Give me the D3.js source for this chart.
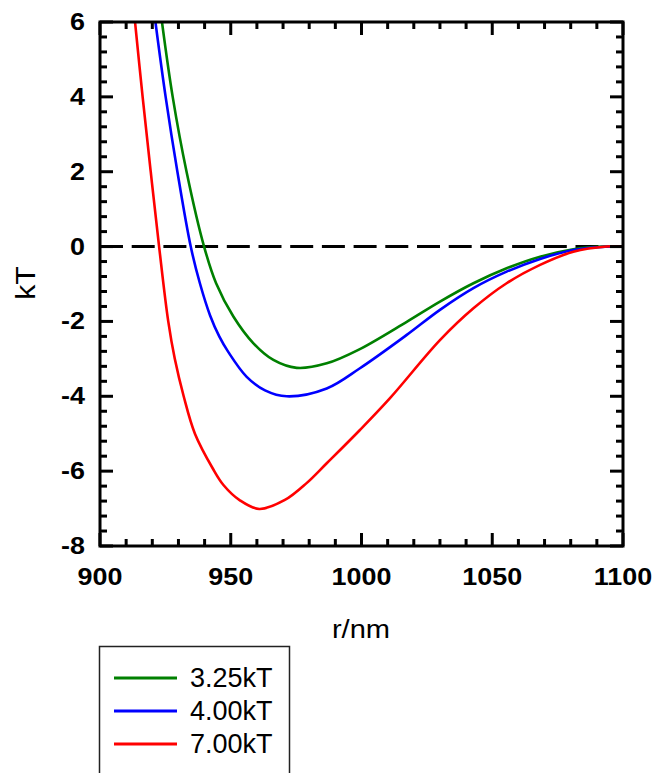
<!DOCTYPE html>
<html>
<head>
<meta charset="utf-8">
<script src="https://cdn.jsdelivr.net/npm/d3@7"></script>
<style>
  body { margin: 0; background: #fff; }
  svg { display: block; font-family: Arial, "Liberation Sans", sans-serif; }
</style>
</head>
<body>
<svg id="chart" width="655" height="773"></svg>
<script>
// ============= Data =============
// [r (nm), energy (kT)]
const green325 = [
  [923.7, 6.0], [927.8, 4.0], [933.1, 2.0], [939.8, 0.0], [944.4, -0.98],
  [951.0, -1.87], [958.6, -2.58], [966.3, -3.03], [975.2, -3.24], [986.7, -3.12],
  [998.8, -2.76], [1017.3, -2.01], [1030.0, -1.47], [1042.8, -0.98],
  [1055.5, -0.58], [1068.3, -0.27], [1081.0, -0.07], [1092.0, 0.0], [1100.0, 0.0]
];
const blue400 = [
  [921.2, 6.0], [925.1, 4.0], [929.6, 2.0], [934.7, 0.0], [938.2, -0.98],
  [942.1, -1.84], [945.6, -2.40], [949.1, -2.82], [956.1, -3.48], [963.1, -3.84],
  [971.4, -4.0], [986.7, -3.79], [999.4, -3.25], [1017.3, -2.36],
  [1030.0, -1.69], [1042.8, -1.11], [1055.5, -0.67], [1068.3, -0.33], [1081.0, -0.09],
  [1092.0, -0.01], [1100.0, 0.0]
];
const red700 = [
  [913.4, 6.0], [916.3, 4.0], [919.4, 2.0], [922.6, 0.0], [926.1, -2.0],
  [928.6, -3.0], [932.0, -4.0], [936.3, -5.0], [943.3, -5.95], [947.2, -6.37],
  [953.5, -6.78], [960.9, -7.01], [970.7, -6.77], [979.0, -6.32], [986.7, -5.79],
  [999.4, -4.9], [1010.9, -4.05], [1030.0, -2.5], [1042.8, -1.65], [1055.5, -0.98],
  [1068.3, -0.49], [1081.0, -0.14], [1093.8, 0.0], [1100.0, 0.0]
];

const xTicks = [900, 950, 1000, 1050, 1100];
const yTicks = [-8, -6, -4, -2, 0, 2, 4, 6];
const legendLabels = ['3.25kT', '4.00kT', '7.00kT'];
const colors = ['#008000', '#0000ff', '#ff0000'];
const series = [green325, blue400, red700];

// ============= Layout =============
const plot = {left: 100, right: 623, top: 22, bottom: 546};
const labelStretch = 1.17; // tick labels look horizontally stretched in the original

const svg = d3.select('#chart');

const x = d3.scaleLinear().domain([900, 1100]).range([plot.left, plot.right]);
const y = d3.scaleLinear().domain([-8, 6]).range([plot.bottom, plot.top]);

// clip for curves
svg.append('clipPath')
    .attr('id', 'plot-clip')
  .append('rect')
    .attr('x', plot.left)
    .attr('y', plot.top)
    .attr('width', plot.right - plot.left)
    .attr('height', plot.bottom - plot.top);

// Zero line (dashed)
svg.append('line')
  .attr('x1', plot.left)
  .attr('x2', plot.right)
  .attr('y1', y(0))
  .attr('y2', y(0))
  .attr('stroke', '#000')
  .attr('stroke-width', 3)
  .attr('stroke-dasharray', '23,8.7');

// Curves
const line = d3.line()
  .x(d => x(d[0]))
  .y(d => y(d[1]))
  .curve(d3.curveCatmullRom.alpha(0.5));

svg.append('g')
    .attr('clip-path', 'url(#plot-clip)')
  .selectAll('path')
    .data(series)
    .enter()
    .append('path')
    .attr('d', line)
    .attr('fill', 'none')
    .attr('stroke', (d, i) => colors[i])
    .attr('stroke-width', 2.6);

// ============= Axes =============
// Ticks pointing inward on all four sides
const xMinor = d3.range(900, 1100.1, 10);
const yMinor = d3.range(-8, 6.01, 0.4);

function tickLen(isMajor){ return isMajor ? 13 : 7; }

const ticks = svg.append('g')
  .attr('stroke', '#000')
  .attr('stroke-width', 3);

xMinor.forEach(v =>{
  const major = Math.abs(v % 50) < 1e-6;
  const px = x(v);
  ticks.append('line').attr('x1', px).attr('x2', px)
    .attr('y1', plot.bottom).attr('y2', plot.bottom - tickLen(major));
  ticks.append('line').attr('x1', px).attr('x2', px)
    .attr('y1', plot.top).attr('y2', plot.top + tickLen(major));
});

yMinor.forEach(v =>{
  const r = Math.round(v * 10) / 10;
  const major = Math.abs(r % 2) < 1e-6;
  const py = y(r);
  ticks.append('line').attr('y1', py).attr('y2', py)
    .attr('x1', plot.left).attr('x2', plot.left + tickLen(major));
  ticks.append('line').attr('y1', py).attr('y2', py)
    .attr('x1', plot.right).attr('x2', plot.right - tickLen(major));
});

// Frame
svg.append('rect')
  .attr('x', plot.left)
  .attr('y', plot.top)
  .attr('width', plot.right - plot.left)
  .attr('height', plot.bottom - plot.top)
  .attr('fill', 'none')
  .attr('stroke', '#000')
  .attr('stroke-width', 3);

// Tick labels
svg.append('g')
  .selectAll('text')
  .data(xTicks)
  .enter()
  .append('text')
    .attr('transform', d => 'translate(' + x(d) + ',585) scale(' + labelStretch + ',1)')
    .attr('text-anchor', 'middle')
    .style('font-size', '23px')
    .style('font-weight', 'bold')
    .text(d => d);

svg.append('g')
  .selectAll('text')
  .data(yTicks)
  .enter()
  .append('text')
    .attr('transform', d => 'translate(85,' + (y(d) + 8) + ') scale(' + labelStretch + ',1)')
    .attr('text-anchor', 'end')
    .style('font-size', '23px')
    .style('font-weight', 'bold')
    .text(d => d);

// Axis titles
svg.append('text')
  .attr('transform', 'translate(361,638) scale(1.12,1)')
  .attr('text-anchor', 'middle')
  .style('font-size', '26px')
  .text('r/nm');

svg.append('text')
  .attr('transform', 'translate(35,283) rotate(-90) scale(1.12,1)')
  .attr('text-anchor', 'middle')
  .style('font-size', '27px')
  .text('kT');

// ============= Legend =============
const legend = svg.append('g');

legend.append('rect')
  .attr('x', 99.5)
  .attr('y', 646.5)
  .attr('width', 190)
  .attr('height', 140)
  .attr('fill', '#fff')
  .attr('stroke', '#222')
  .attr('stroke-width', 1.5);

const rows = legend.selectAll('g.row')
  .data(legendLabels)
  .enter()
  .append('g')
    .attr('class', 'row')
    .attr('transform', (d, i) => 'translate(0,' + (678 + i * 33) + ')');

rows.append('line')
  .attr('x1', 114)
  .attr('x2', 177)
  .attr('stroke', (d, i) => colors[i])
  .attr('stroke-width', 3);

rows.append('text')
  .attr('x', 190)
  .attr('y', 9)
  .style('font-size', '27px')
  .text(d => d);
</script>
</body>
</html>
